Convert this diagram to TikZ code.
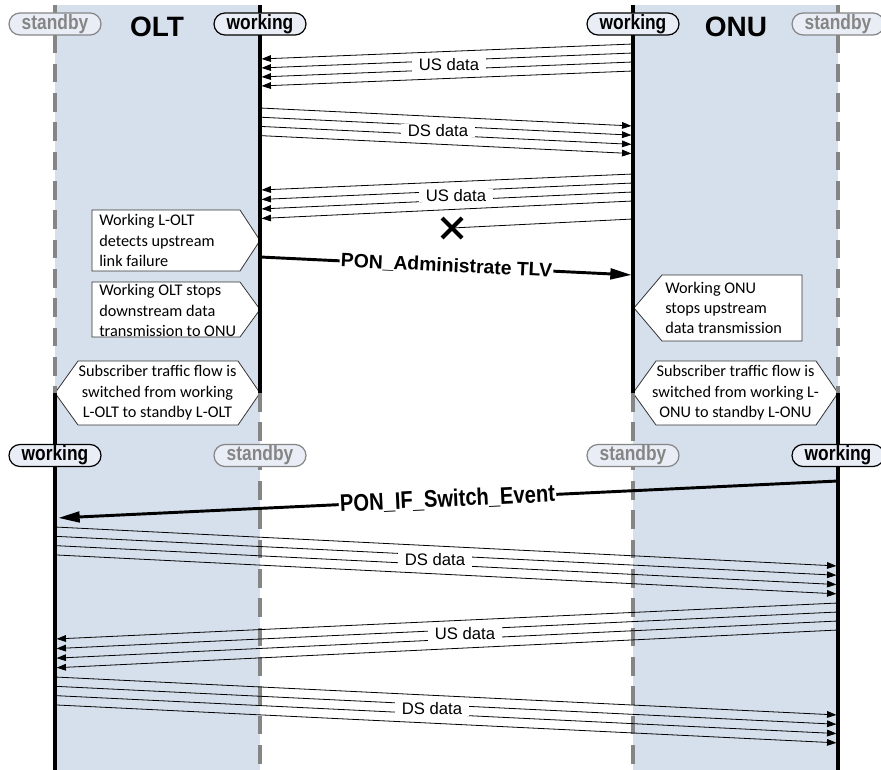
\documentclass[tikz,border=0pt]{standalone}
\usepackage{fontspec}
\setmainfont{Liberation Sans}
\newfontfamily\notefont{Carlito}
\newfontfamily\narrowfont[FakeStretch=0.84]{Liberation Sans}
\usetikzlibrary{arrows.meta,positioning,shapes.misc}
\definecolor{lanec}{HTML}{D6DFEC}
\definecolor{pillc}{HTML}{E9EEF6}
\definecolor{idlec}{HTML}{858585}
\tikzset{
  live/.style={line width=2.6pt,black},
  idle/.style={line width=2.6pt,idlec,dash pattern=on 14pt off 8pt},
  pill/.style={rounded rectangle,line width=0.9pt,fill=pillc,minimum width=69pt,minimum height=16.5pt,inner sep=0pt,font=\narrowfont\bfseries\fontsize{15.5}{15.5}\selectfont},
  pillon/.style={pill,draw=black,text=black},
  pilloff/.style={pill,draw=idlec,text=idlec},
  sidettl/.style={font=\bfseries\fontsize{21}{21}\selectfont},
  dat/.style={-{Triangle[length=7pt,width=5pt]},line width=0.6pt,shorten >=1.2pt},
  datlbl/.style={fill=white,inner xsep=5pt,inner ysep=0.6pt,font=\fontsize{12.5}{12.5}\selectfont},
  msg/.style={-{Triangle[length=16pt,width=8pt]},line width=2.2pt,shorten >=1pt},
  msglbl/.style={fill=white,inner sep=1pt,sloped,font=\bfseries\fontsize{14.5}{14.5}\selectfont},
  callout/.style={draw=black!80,fill=white,line width=0.6pt},
  note/.style={inner sep=0pt,font=\notefont\fontsize{12.2}{15.3}\selectfont}
}

\begin{document}
\begin{tikzpicture}[x=0.75pt,y=-0.75pt]
\useasboundingbox (0,0) rectangle (881,770);
% lanes
\fill[lanec] (55,5) rectangle (260,770);
\fill[lanec] (633,5) rectangle (838,770);
% callout outlines
\draw[callout] (92,210) -- (240,210) -- (260,240.5) -- (240,271) -- (92,271) -- cycle;
\draw[callout] (92,282) -- (240,282) -- (260,309.5) -- (240,337) -- (92,337) -- cycle;
\draw[callout] (55,393) -- (78,361) -- (238,361) -- (260,393) -- (238,425) -- (78,425) -- cycle;
\draw[callout] (634,308) -- (662,275) -- (802,275) -- (802,341) -- (662,341) -- cycle;
\draw[callout] (633,393) -- (656,361) -- (816,361) -- (838,393) -- (816,425) -- (656,425) -- cycle;
% lifelines, swapped at the hexagon tips
\draw[idle] (55,5) -- (55,393);   \draw[live] (55,393) -- (55,770);
\draw[live] (260,5) -- (260,393); \draw[idle] (260,393) -- (260,770);
\draw[live] (633,5) -- (633,393); \draw[idle] (633,393) -- (633,770);
\draw[idle] (838,5) -- (838,393); \draw[live] (838,393) -- (838,770);
% state pills and titles
\node[pilloff] (sbA) at (55,24) {standby};
\node[sidettl] (olt) at (157,27) {OLT};
\node[pillon] (wkA) at (260,24) {working};
\node[pillon] (wkB) at (633,24) {working};
\node[sidettl] (onu) at (736,27) {ONU};
\node[pilloff] (sbB) at (838,24) {standby};
\node[pillon] (wkC) at (55,455.5) {working};
\node[pilloff] (sbC) at (260,455.5) {standby};
\node[pilloff] (sbD) at (633,455.5) {standby};
\node[pillon] (wkD) at (838,455.5) {working};
% traffic before the failure
\foreach \k in {0,...,3}
  \draw[dat] (633,{44+9*\k}) -- (260,{59+9*\k});
\node[datlbl] (us1) at (449,65) {US data};
\foreach \k in {0,...,3}
  \draw[dat] (260,{108+9.2*\k}) -- (633,{126+9.2*\k});
\node[datlbl] (ds1) at (438,130.5) {DS data};
\foreach \k in {0,...,3}
  \draw[dat] (633,{174+9*\k}) -- (260,{190+9.5*\k});
\node[datlbl] (us2) at (456,195.5) {US data};
% lost upstream frame
\coordinate (lost) at (452,228);
\draw[line width=0.6pt] (633,219) -- (lost);
\draw[line width=3pt] (lost) ++(-10,-10) -- ++(20,20) (lost) ++(-10,10) -- ++(20,-20);
% protection messages
\coordinate (tlvS) at (260,257);
\coordinate (tlvE) at (633,275);
\draw[msg] (tlvS) -- node[msglbl] (tlv) {PON\_Administrate TLV} (tlvE);
\coordinate (swS) at (838,481);
\coordinate (swE) at (57,518);
\draw[msg] (swS) -- node[msglbl,font=\narrowfont\bfseries\fontsize{18}{18}\selectfont] (swev) {PON\_IF\_Switch\_Event} (swE);
% traffic after the switch
\foreach \k in {0,...,3}
  \draw[dat] (55,{527+9.3*\k}) -- (838,{566+9.3*\k});
\node[datlbl] (ds2) at (435,560) {DS data};
\foreach \k in {0,...,3}
  \draw[dat] (838,{603+9*\k}) -- (55,{639+9.6*\k});
\node[datlbl] (us3) at (465,634) {US data};
\foreach \k in {0,...,3}
  \draw[dat] (55,{677+9.3*\k}) -- (838,{715+9.3*\k});
\node[datlbl] (ds3) at (432,709) {DS data};
% callout texts
\node[note,anchor=west,align=left] (detect) at (99,240.5) {Working L-OLT\\detects upstream\\link failure};
\node[note,anchor=west,align=left] (stopds) at (99,310.5) {Working OLT stops\\downstream data\\transmission to ONU};
\node[note,align=center] (swolt) at (157.5,393) {Subscriber traffic flow is\\switched from working\\L-OLT to standby L-OLT};
\node[note,anchor=west,align=left] (stopus) at (665,308) {Working ONU\\stops upstream\\data transmission};
\node[note,align=center] (swonu) at (735.5,393) {Subscriber traffic flow is\\switched from working L-\\ONU to standby L-ONU};
\end{tikzpicture}
\end{document}
